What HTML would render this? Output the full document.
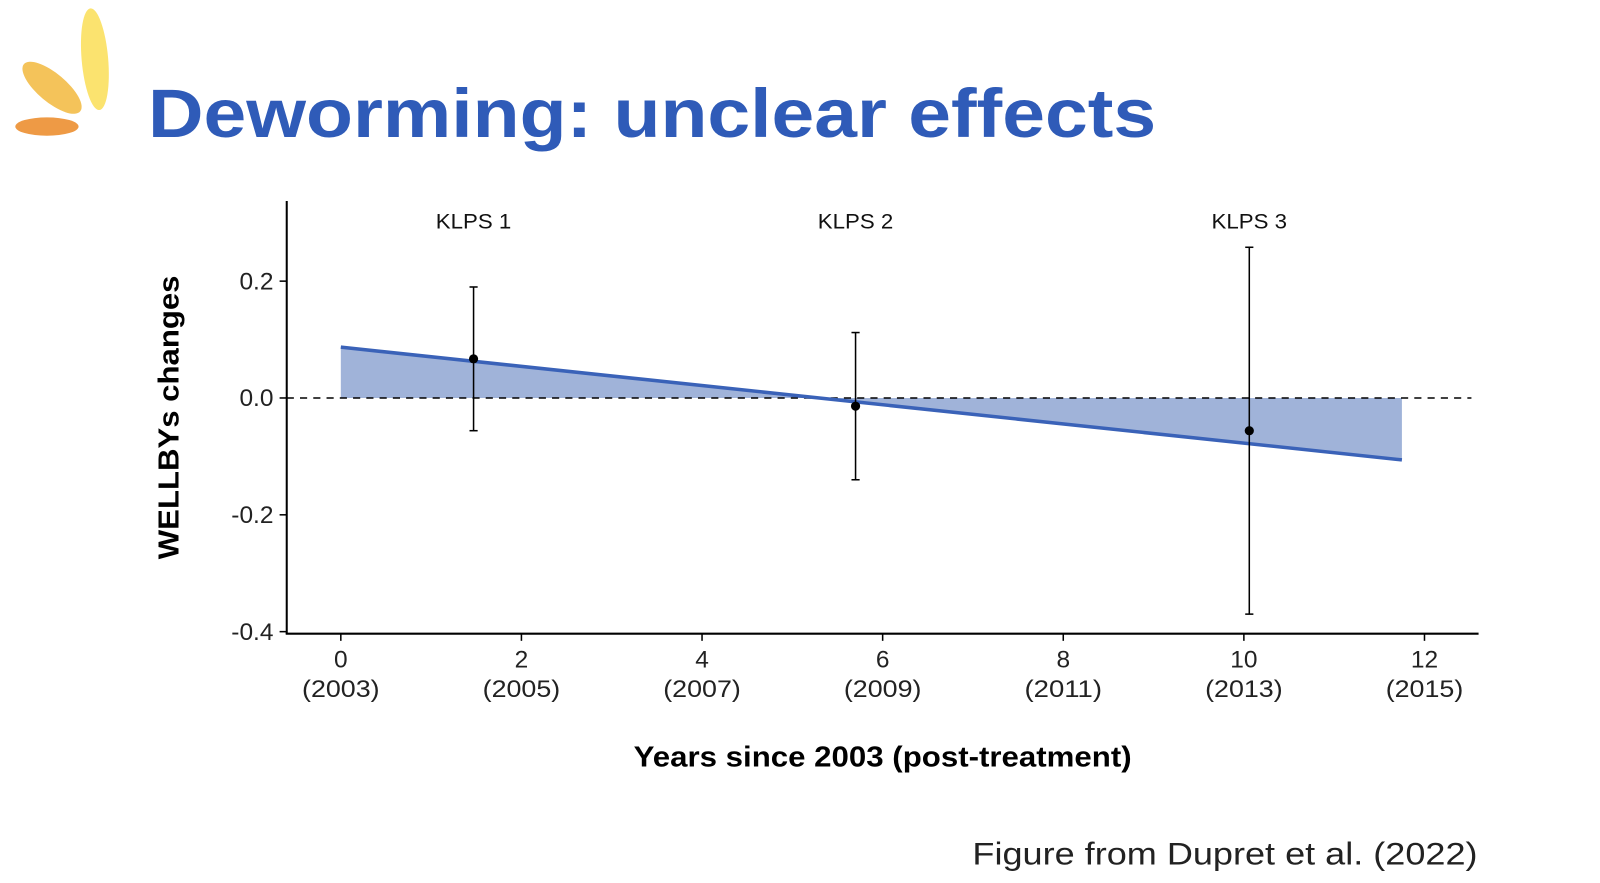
<!DOCTYPE html>
<html><head><meta charset="utf-8"><style>
body{margin:0;width:1600px;height:883px;background:#fff;overflow:hidden;font-family:"Liberation Sans",sans-serif}
svg{position:absolute;left:0;top:0}
</style></head><body>
<svg width="1600" height="883" viewBox="0 0 1568 865.3">
<g>
<ellipse cx="93" cy="58" rx="13" ry="50" fill="#fbe36f" transform="rotate(-5 93 58)"/>
<ellipse cx="51" cy="86" rx="14" ry="36" fill="#f4c35a" transform="rotate(-50 51 86)"/>
<ellipse cx="46" cy="124" rx="31" ry="9" fill="#ee9a45"/>
</g>
<text x="145" y="134" font-size="67" font-weight="bold" fill="#2f5bb8" textLength="988" lengthAdjust="spacingAndGlyphs">Deworming: unclear effects</text>
<text x="953" y="847" font-size="31" fill="#222" textLength="495" lengthAdjust="spacingAndGlyphs">Figure from Dupret et al. (2022)</text>
<g id="chart"></g>
</svg>
<script>
const xTicks=[0,2,4,6,8,10,12];
const xYears=["(2003)","(2005)","(2007)","(2009)","(2011)","(2013)","(2015)"];
const yTicks=[0.2,0.0,-0.2,-0.4];
const yLabels=["0.2","0.0","-0.2","-0.4"];
const waveNames=["KLPS 1","KLPS 2","KLPS 3"];
const waveX=[1.47,5.7,10.06];
const waveEst=[0.067,-0.014,-0.056];
const waveLo=[-0.056,-0.14,-0.37];
const waveHi=[0.19,0.112,0.258];
const trendX=[0,11.75];
const trendY=[0.087,-0.106];
const NS="http://www.w3.org/2000/svg";
const g=document.getElementById('chart');
const X=v=>334+v*88.5;
const Y=v=>390-v*572.5;
function el(t,a,p){const e=document.createElementNS(NS,t);for(const k in a)e.setAttribute(k,a[k]);(p||g).appendChild(e);return e;}
const zx=trendX[0]+(0-trendY[0])*(trendX[1]-trendX[0])/(trendY[1]-trendY[0]);
let a1=el('polygon',{points:`${X(trendX[0])},${Y(0)} ${X(trendX[0])},${Y(trendY[0])} ${X(zx)},${Y(0)}`,fill:'#a0b3d9'});


let a2=el('polygon',{points:`${X(zx)},${Y(0)} ${X(trendX[1])},${Y(trendY[1])} ${X(trendX[1])},${Y(0)}`,fill:'#a0b3d9'});


let zl=el('line',{x1:281,x2:1442,y1:Y(0),y2:Y(0),stroke:'#000','stroke-width':1.5,'stroke-dasharray':'7,6'});


let tl=el('line',{x1:X(trendX[0]),y1:Y(trendY[0]),x2:X(trendX[1]),y2:Y(trendY[1]),stroke:'#3a62b8','stroke-width':3.5});


let ya=el('line',{x1:281,x2:281,y1:197,y2:621,stroke:'#000','stroke-width':2});


let xa=el('line',{x1:280,x2:1449,y1:621,y2:621,stroke:'#000','stroke-width':2});


yTicks.forEach((v,i)=>{
 el('line',{x1:274,x2:281,y1:Y(v),y2:Y(v),stroke:'#000','stroke-width':1.5});
 const t=el('text',{x:268,y:Y(v)+8,'font-size':24,'text-anchor':'end',fill:'#222'});t.textContent=yLabels[i];
 
 
});
xTicks.forEach((v,i)=>{
 el('line',{x1:X(v),x2:X(v),y1:621,y2:628,stroke:'#000','stroke-width':1.5});
 const t=el('text',{x:X(v),y:654,'font-size':24,'text-anchor':'middle',fill:'#222'});t.textContent=v;
 
 
 const t2=el('text',{x:X(v),y:683,'font-size':24,'text-anchor':'middle',fill:'#222',textLength:76,lengthAdjust:'spacingAndGlyphs'});t2.textContent=xYears[i];
 
 
});
waveNames.forEach((n,i)=>{
 const x=X(waveX[i]);
 const gg=el('g',{});
 
 
 el('line',{x1:x,x2:x,y1:Y(waveHi[i]),y2:Y(waveLo[i]),stroke:'#000','stroke-width':1.5},gg);
 el('line',{x1:x-4,x2:x+4,y1:Y(waveHi[i]),y2:Y(waveHi[i]),stroke:'#000','stroke-width':1.5},gg);
 el('line',{x1:x-4,x2:x+4,y1:Y(waveLo[i]),y2:Y(waveLo[i]),stroke:'#000','stroke-width':1.5},gg);
 el('circle',{cx:x,cy:Y(waveEst[i]),r:4.5,fill:'#000'},gg);
 const t=el('text',{x:x,y:224,'font-size':21,'text-anchor':'middle',fill:'#111',textLength:74,lengthAdjust:'spacingAndGlyphs'},gg);t.textContent=n;
});
let xt=el('text',{x:865,y:751,'font-size':28,'font-weight':'bold','text-anchor':'middle',fill:'#000',textLength:488,lengthAdjust:'spacingAndGlyphs'});xt.textContent='Years since 2003 (post-treatment)';


let yt=el('text',{x:0,y:0,'font-size':28,'font-weight':'bold','text-anchor':'middle',fill:'#000',transform:'translate(175,409) rotate(-90)',textLength:278,lengthAdjust:'spacingAndGlyphs'});yt.textContent='WELLBYs changes';


</script>
</body></html>
